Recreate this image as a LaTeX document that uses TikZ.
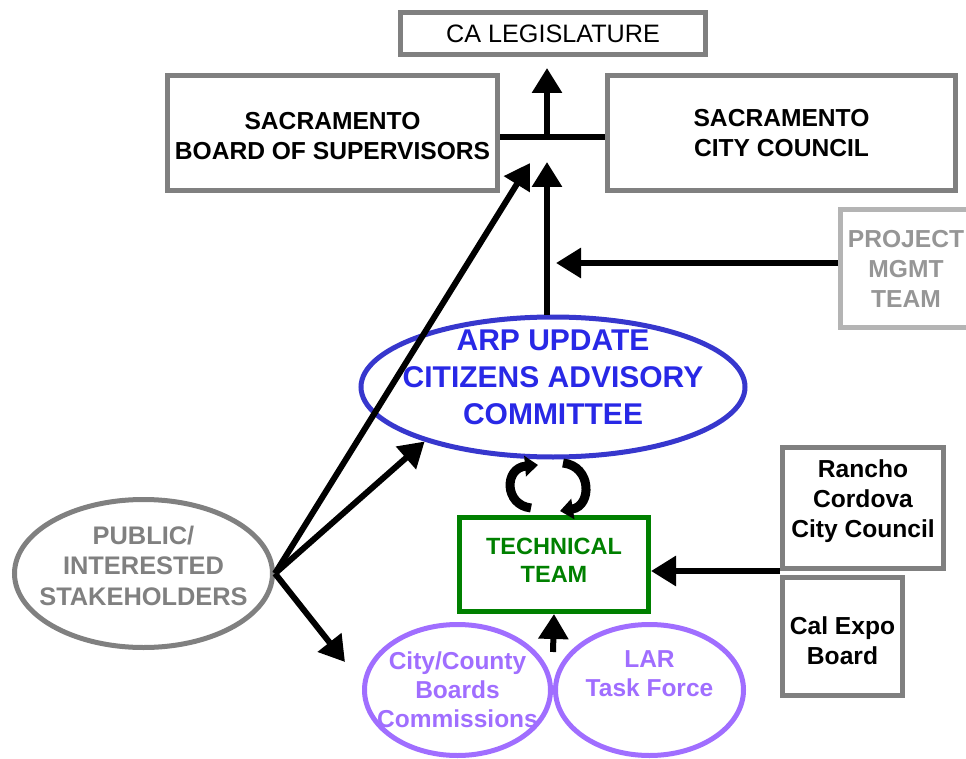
\documentclass[tikz,border=0pt]{standalone}
\usepackage{fontspec}
\setmainfont{Liberation Sans}
\usetikzlibrary{shapes.geometric,arrows.meta}
\definecolor{boxgray}{RGB}{128,128,128}
\definecolor{lightgray}{RGB}{180,180,180}
\definecolor{lighttext}{RGB}{150,150,150}
\definecolor{cacblue}{RGB}{40,40,230}
\definecolor{cacline}{RGB}{55,55,205}
\definecolor{techgreen}{RGB}{0,128,0}
\definecolor{lilac}{RGB}{160,110,255}
\begin{document}
\begin{tikzpicture}[x=1pt,y=-1pt,
    every node/.style={font=\bfseries\fontsize{24.6}{30}\selectfont, align=center, inner sep=0pt},
    graybox/.style={draw=boxgray, line width=5pt, rectangle},
    oval/.style={ellipse, line width=5pt},
    arr/.style={line width=6pt, -{Triangle[length=25pt,width=29pt]}},
    cyc/.style={line width=9pt, -{Triangle[length=13pt,width=20pt]}}]
    \useasboundingbox (0,0) rectangle (966,759);
    \path   node[graybox, minimum width=305, minimum height=42, font=\fontsize{25.2}{30}\selectfont] (leg) at (553,33.5) {CA LEGISLATURE}
            node[graybox, minimum width=330, minimum height=115,
                 label={[yshift=-3pt]center:SACRAMENTO\\BOARD OF SUPERVISORS}] (board) at (332.5,133) {}
            node[graybox, minimum width=348, minimum height=115] (city) at (781.5,133) {SACRAMENTO\\CITY COUNCIL}
            node[draw=lightgray, line width=5pt, minimum width=131, minimum height=118, text=lighttext] (pmt) at (906,268.5) {PROJECT\\MGMT\\TEAM}
            node[oval, draw=cacline, minimum width=384, minimum height=140,
                 label={[text=cacblue, font=\bfseries\fontsize{30}{37}\selectfont, yshift=10pt]center:ARP UPDATE\\CITIZENS ADVISORY\\COMMITTEE}] (cac) at (553,387) {}
            node[oval, draw=boxgray, minimum width=258, minimum height=148,
                 label={[text=boxgray, font=\bfseries\fontsize{25.4}{30.5}\selectfont, yshift=8pt]center:PUBLIC/\\INTERESTED\\STAKEHOLDERS}] (pub) at (143.5,573.5) {}
            node[draw=techgreen, line width=5pt, minimum width=189, minimum height=94,
                 label={[text=techgreen, font=\bfseries\fontsize{23.5}{28}\selectfont, yshift=4pt]center:TECHNICAL\\TEAM}] (tech) at (554,564.5) {}
            node[oval, draw=lilac, minimum width=186, minimum height=131,
                 label={[text=lilac, font=\bfseries\fontsize{24.5}{29}\selectfont]center:City/County\\Boards\\Commissions}] (cc) at (457.5,690) {}
            node[oval, draw=lilac, minimum width=188, minimum height=131,
                 label={[text=lilac, font=\bfseries\fontsize{24.5}{29}\selectfont, yshift=16pt]center:LAR\\Task Force}] (lar) at (649.5,690) {}
            node[graybox, minimum width=161, minimum height=121,
                 label={[yshift=7pt]center:Rancho\\Cordova\\City Council}] (rcc) at (863,508) {}
            node[graybox, minimum width=120, minimum height=118,
                 label={[yshift=-4pt]center:Cal Expo\\Board}] (cal) at (842.5,636.5) {};
    \coordinate (jn) at (547,137);
    \coordinate (pm) at (547,263);
    \coordinate (sup) at (530,163);
    \coordinate (cctip) at (345,662);
    \coordinate (base) at (553,652);
    % joint line up to the legislature
    \draw[line width=6pt] (board.east |- jn) -- (city.west |- jn);
    \draw[arr, shorten >=11pt] (jn) -- (jn |- leg.south);
    \draw[arr, shorten >=25pt] (jn |- cac.north) -- (jn);
    \draw[arr, shorten >=9pt] (pmt.west |- pm) -- (pm);
    % public input
    \draw[arr] (pub.east) -- (sup);
    \draw[arr] (pub.east) -- (cac.203);
    \draw[arr] (pub.east) -- (cctip);
    % technical team
    \draw[cyc] (531,508) .. controls (504,505) and (504,468) .. (538,465);
    \draw[cyc] (563,463) .. controls (592,466) and (592,506) .. (560,511);
    \draw[arr] (rcc.south west) -- (rcc.south west -| tech.east);
    \draw[arr] (base) -- (tech.south);
\end{tikzpicture}
\end{document}
